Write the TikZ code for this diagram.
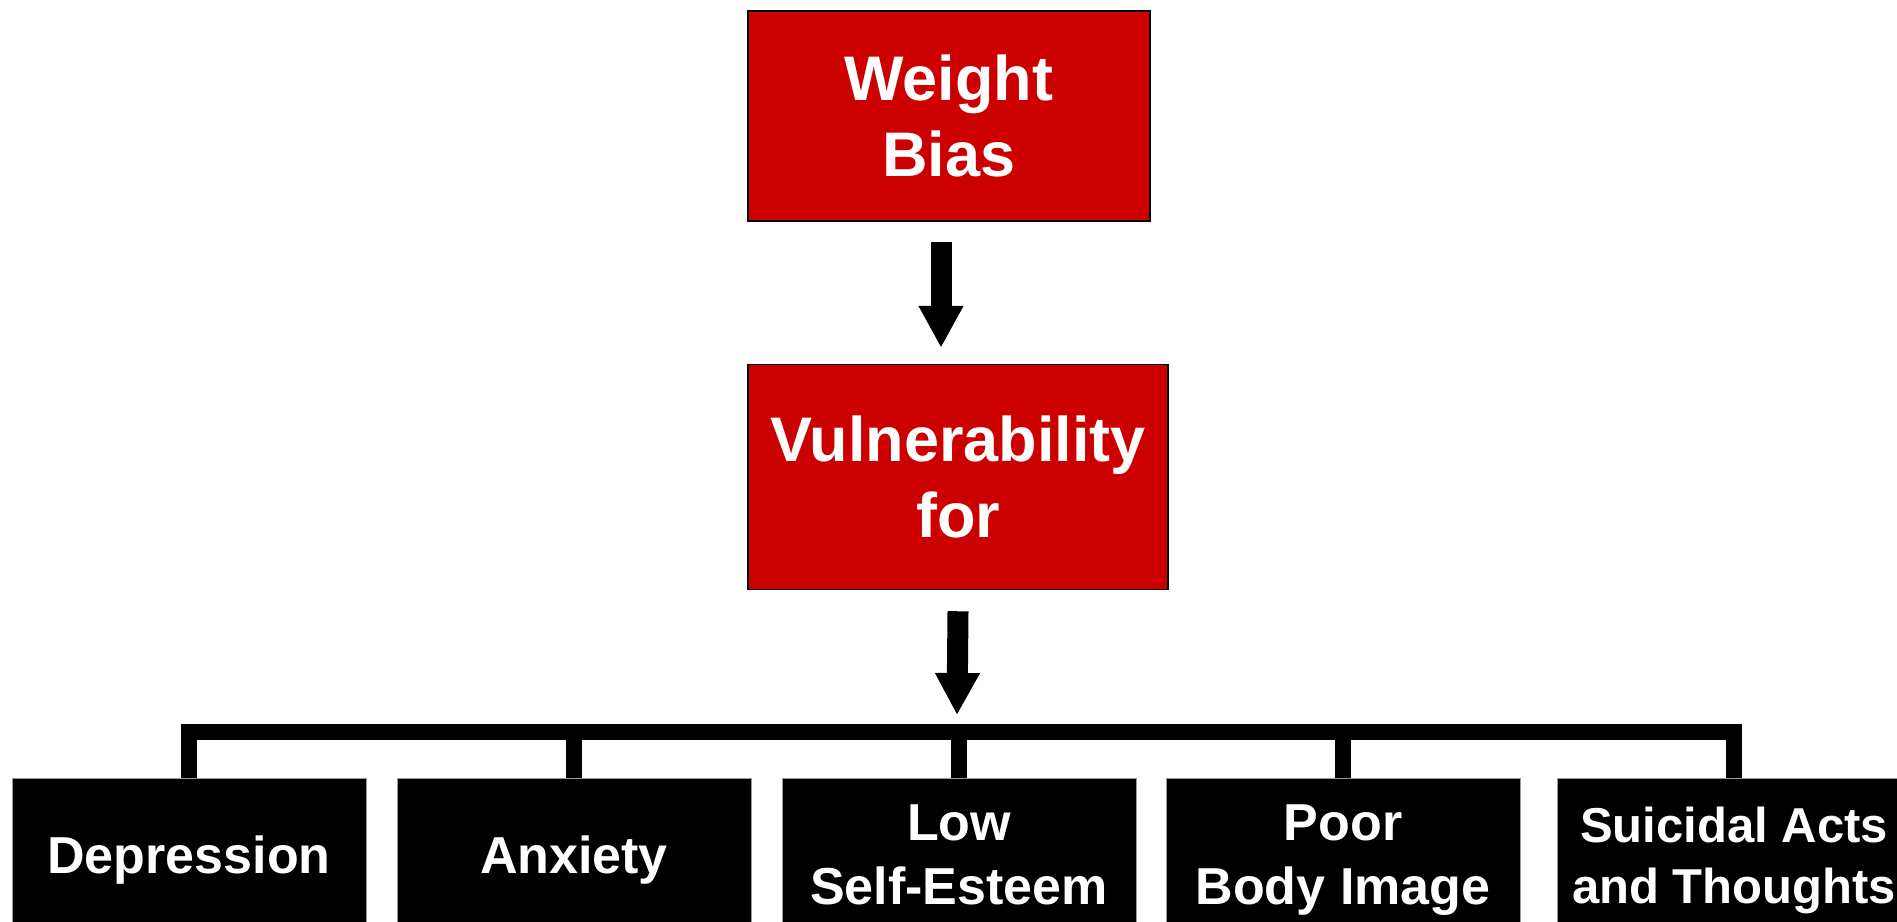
\documentclass[tikz,border=0pt]{standalone}
\usepackage{fontspec}
\setmainfont{Liberation Sans}
\usepackage{tikz}
\usetikzlibrary{arrows.meta,positioning}
\definecolor{wbred}{HTML}{CC0000}
\definecolor{edgegray}{HTML}{9A9A9A}
\tikzset{
  redbox/.style={draw=black, line width=1.5pt, fill=wbred, text=white,
                 align=center, inner sep=0pt, text depth=0pt,
                 font=\bfseries\fontsize{63}{76}\selectfont},
  outbox/.style={draw=edgegray, line width=1pt, fill=black, text=white,
                 align=center, inner sep=0pt, text depth=0pt,
                 minimum width=354pt, minimum height=154pt,
                 font=\bfseries\fontsize{52}{64}\selectfont},
  push/.style={line width=21pt, -{Triangle[length=42pt,width=42pt]}},
  bus/.style={line width=16pt, line join=miter}
}

\begin{document}
\begin{tikzpicture}[x=1pt,y=-1pt]
  \useasboundingbox (0,0) rectangle (1897,921);
  \clip (0,0) rectangle (1897,921);
  \node[redbox, minimum width=402pt, minimum height=210pt] (wb) at (949,116) {Weight\\Bias};
  \node[redbox, minimum width=420pt, minimum height=225pt, below=142pt of wb, xshift=9pt] (vul) {Vulnerability\\for};
  % outcomes
  \node[outbox] (dep) at (189,855) {Depression};
  \node[outbox, right=30pt of dep] (anx) {Anxiety};
  \node[outbox, right=30pt of anx] (low) {Low\\Self-Esteem};
  \node[outbox, right=29pt of low] (poor) {Poor\\Body Image};
  \node[outbox, right=36pt of poor, font=\bfseries\fontsize{49}{61}\selectfont] (sui) {Suicidal Acts\\and Thoughts};
  \coordinate (hub) at (957,732);
  \draw[push] ([xshift=-8pt,yshift=-20pt]wb.south) -- ([xshift=-17pt,yshift=16pt]vul.north);
  \draw[push] ([yshift=-21pt]vul.south) -- ([yshift=17pt]hub);
  \draw[bus] (dep.north) |- (hub) -| (sui.north);
  \draw[bus] (hub -| anx.north) -- (anx.north);
  \draw[bus] (hub -| low.north) -- (low.north);
  \draw[bus] (hub -| poor.north) -- (poor.north);
\end{tikzpicture}
\end{document}
